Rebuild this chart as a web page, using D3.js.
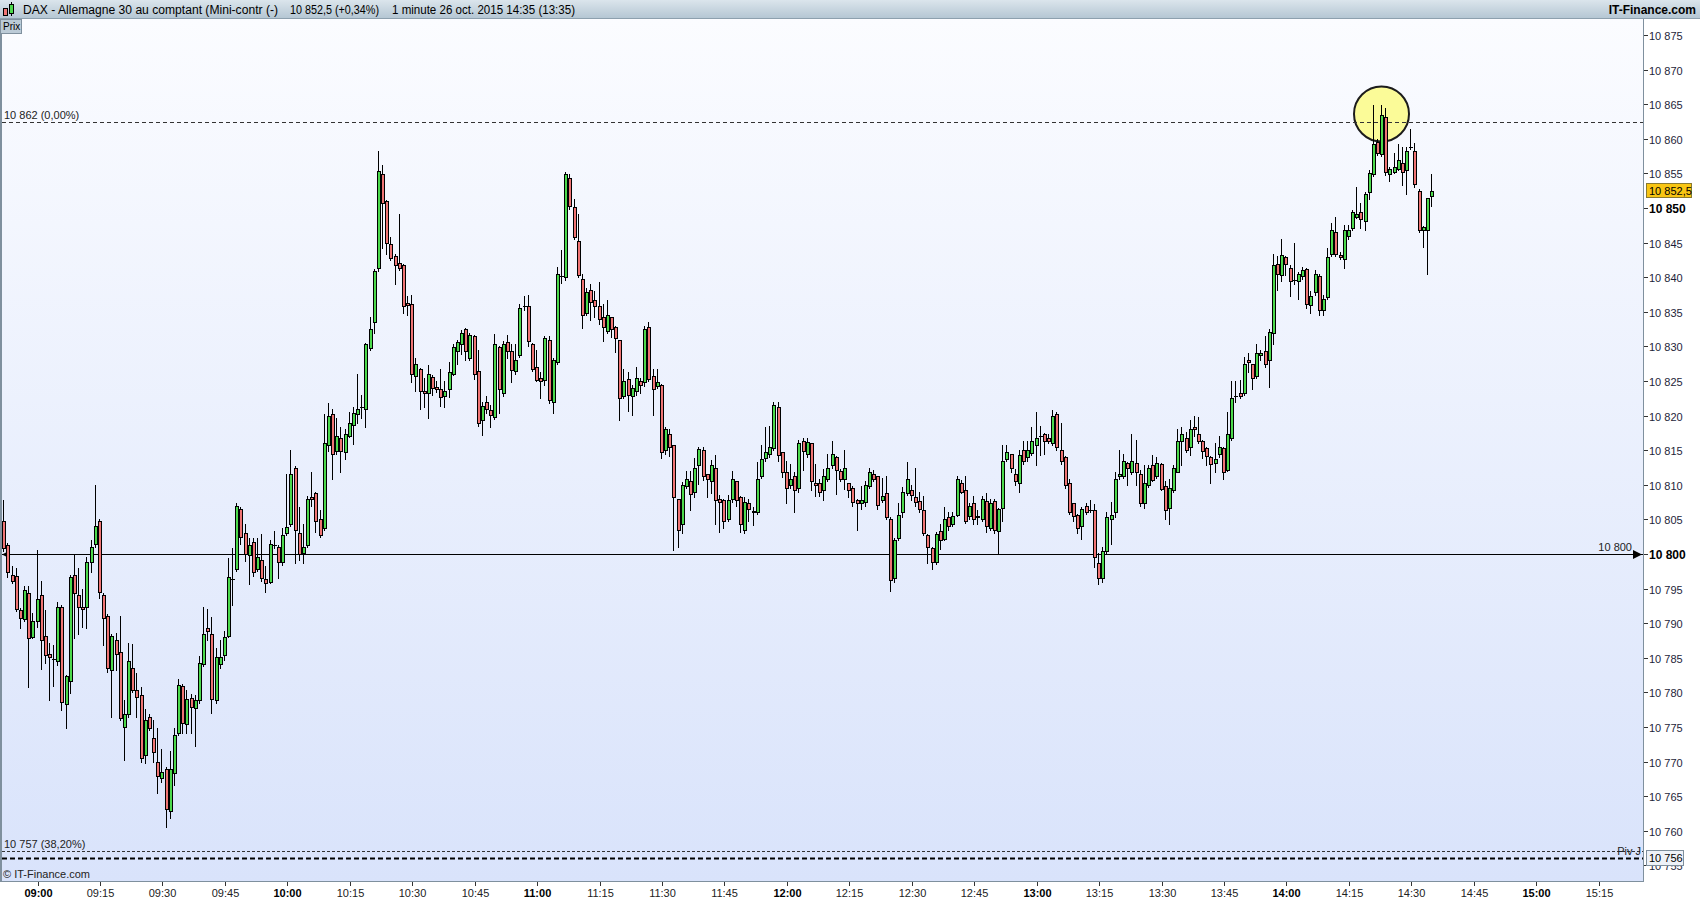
<!DOCTYPE html>
<html><head><meta charset="utf-8">
<script src="https://cdn.jsdelivr.net/npm/d3@7"></script>
<style>
body{margin:0;background:#fff;}
svg{display:block;font-family:"Liberation Sans",Arial,sans-serif;}
</style>
</head><body>
<svg id="chart" width="1700" height="900"></svg>
<script>
// ---------------- DATA ----------------
const lastTime = "14:35";
const opens = [
10804.8,10801.3,10796.9,10796.8,10791.9,10790.6,10794.3,10788.0,10790.3,10794.0,
10788.2,10785.5,10784.8,10784.5,10792.3,10778.3,10781.7,10796.9,10794.0,10792.4,
10792.4,10798.8,10801.5,10804.7,10794.0,10791.0,10783.3,10787.5,10785.8,10775.0,
10776.9,10783.5,10780.4,10779.6,10771.0,10776.5,10773.4,10769.9,10767.6,10768.9,
10762.9,10768.3,10774.1,10780.9,10775.4,10779.2,10777.8,10778.9,10784.1,10789.3,
10788.5,10778.9,10784.1,10785.4,10788.2,10796.4,10797.9,10806.5,10803.0,10799.9,
10801.8,10797.9,10799.2,10796.4,10796.0,10801.25,10801.0,10798.9,10803.0,10804.3,
10812.5,10803.0,10800.2,10801.25,10808.3,10808.8,10805.0,10803.7,10815.8,10820.2,
10814.9,10816.7,10814.7,10817.1,10818.7,10820.2,10821.2,10820.9,10829.8,10833.5,
10841.3,10854.9,10851.0,10844.75,10843.1,10842.1,10841.7,10836.3,10836.2,10825.7,
10826.7,10823.5,10823.2,10825.6,10824.2,10823.8,10822.9,10823.9,10826.0,10829.4,
10830.3,10832.5,10828.4,10831.5,10826.4,10819.3,10821.9,10820.8,10819.8,10829.9,
10823.2,10830.7,10829.3,10826.4,10828.7,10835.9,10835.8,10830.4,10827.0,10825.5,
10825.2,10830.9,10821.9,10827.7,10840.2,10840.0,10854.4,10850.2,10845.2,10839.7,
10834.9,10838.2,10836.7,10835.9,10834.2,10832.2,10834.2,10832.8,10830.9,10822.8,
10825.3,10822.8,10823.6,10825.0,10824.8,10832.8,10825.7,10824.3,10824.4,10815.0,
10817.4,10815.7,10807.9,10804.3,10809.8,10810.5,10808.9,10812.8,10815.0,10811.5,
10810.5,10812.5,10807.9,10807.8,10805.0,10807.9,10810.5,10808.3,10803.5,10807.3,
10806.2,10806.0,10811.3,10813.9,10814.4,10815.3,10821.2,10814.7,10811.9,10809.9,
10811.2,10809.5,10816.3,10814.4,10816.0,10810.2,10810.2,10809.2,10810.9,10812.8,
10814.0,10812.0,10810.8,10810.2,10809.5,10807.8,10807.3,10807.5,10809.8,10811.5,
10811.2,10807.8,10808.8,10805.0,10796.5,10802.3,10806.0,10808.8,10809.2,10808.3,
10807.7,10806.3,10802.8,10800.8,10798.8,10803.3,10802.2,10805.3,10804.3,10805.7,
10810.2,10809.2,10805.5,10807.3,10805.4,10805.0,10807.7,10803.8,10807.7,10803.3,
10806.7,10813.8,10814.4,10811.5,10810.2,10815.0,10814.0,10814.6,10815.7,10817.0,
10817.3,10816.7,10816.0,10820.2,10815.0,10814.0,10810.2,10807.3,10805.7,10804.0,
10807.0,10806.4,10806.3,10798.7,10796.5,10800.5,10805.0,10806.0,10811.2,10811.2,
10813.2,10811.8,10813.2,10811.5,10807.3,10809.9,10812.8,10811.2,10813.0,10809.8,
10806.7,10809.2,10811.9,10816.4,10816.7,10815.4,10818.3,10817.4,10816.3,10815.3,
10814.0,10813.2,10814.4,10815.3,10812.2,10816.7,10822.9,10823.2,10823.2,10828.0,
10827.4,10825.7,10828.8,10829.3,10828.0,10831.9,10841.9,10840.3,10842.9,10841.4,
10839.6,10839.5,10840.2,10841.2,10836.0,10837.9,10840.2,10835.3,10837.2,10843.4,
10846.5,10843.2,10842.7,10845.9,10847.1,10848.7,10849.4,10848.2,10852.3,10854.9,
10859.6,10857.8,10863.2,10854.9,10855.2,10855.7,10856.5,10855.5,10858.9,10858.3,
10852.4,10846.8,10846.9,10851.7];
const highs = [
10807.8,10801.6,10798.3,10798.0,10792.2,10795.3,10795.3,10791.4,10800.6,10796.1,
10791.9,10787.1,10786.8,10793.1,10792.6,10782.5,10797.0,10800.0,10798.0,10795.0,
10799.5,10802.0,10810.0,10805.0,10794.3,10791.3,10788.5,10788.6,10791.0,10778.9,
10787.1,10787.0,10782.8,10780.8,10777.6,10776.8,10776.0,10774.8,10771.8,10769.2,
10771.5,10774.8,10782.0,10781.2,10780.4,10779.8,10779.6,10785.2,10792.4,10792.0,
10790.9,10786.4,10787.6,10788.8,10799.4,10800.8,10807.3,10806.8,10804.4,10802.3,
10802.3,10802.3,10802.9,10798.2,10802.0,10803.3,10801.3,10803.7,10811.5,10815.0,
10812.7,10806.8,10804.3,10808.4,10811.9,10809.0,10806.4,10820.2,10821.8,10820.9,
10819.6,10818.4,10818.1,10820.5,10821.3,10826.0,10823.0,10830.5,10834.2,10841.2,
10858.2,10856.2,10851.2,10845.8,10843.3,10849.2,10841.9,10837.3,10837.4,10828.4,
10826.9,10825.4,10827.3,10825.8,10825.0,10826.7,10825.0,10827.7,10830.3,10831.0,
10832.4,10832.6,10832.0,10831.6,10829.5,10821.9,10822.9,10821.5,10831.8,10830.1,
10830.8,10831.6,10830.3,10830.3,10836.1,10837.3,10837.5,10830.5,10829.5,10826.3,
10831.5,10831.5,10828.3,10841.5,10843.9,10855.2,10854.9,10851.3,10849.2,10840.4,
10838.4,10839.0,10838.0,10839.3,10836.2,10836.7,10834.3,10833.0,10831.0,10826.7,
10826.3,10824.4,10827.0,10825.4,10832.9,10833.5,10826.7,10826.7,10824.5,10818.3,
10818.0,10815.8,10808.0,10810.4,10812.0,10812.0,10813.9,10815.5,10815.4,10811.6,
10813.6,10814.3,10808.5,10807.9,10808.5,10812.0,10810.6,10808.4,10808.3,10807.9,
10806.8,10813.3,10815.8,10818.4,10818.5,10821.9,10821.9,10814.8,10813.4,10813.0,
10811.9,10816.5,10816.7,10816.7,10816.1,10813.0,10810.9,10812.3,10814.5,10816.3,
10814.1,10812.3,10815.0,10810.3,10809.8,10807.9,10809.8,10810.5,10812.5,10812.1,
10811.3,10811.0,10811.3,10805.4,10802.3,10807.4,10809.7,10813.3,10810.0,10812.5,
10808.9,10808.4,10802.9,10801.0,10803.2,10804.4,10806.8,10806.0,10806.1,10811.3,
10810.7,10811.3,10807.3,10808.4,10806.3,10808.4,10808.8,10808.0,10808.0,10806.6,
10815.8,10815.8,10814.5,10812.3,10815.0,10816.3,10816.3,10818.4,10820.5,10818.5,
10817.5,10817.4,10820.8,10820.5,10819.0,10814.1,10810.8,10807.4,10805.8,10806.8,
10807.3,10807.8,10807.2,10800.2,10801.0,10806.0,10807.5,10811.9,10815.0,10814.4,
10813.3,10817.4,10816.5,10812.2,10812.8,10812.8,10814.3,10814.0,10813.1,10810.5,
10810.9,10812.8,10818.0,10818.3,10817.6,10819.4,10819.9,10819.8,10816.5,10815.5,
10814.2,10816.0,10817.1,10815.4,10820.5,10825.0,10825.0,10825.2,10828.5,10829.0,
10827.5,10830.4,10829.5,10831.5,10832.5,10843.4,10843.0,10845.5,10843.0,10841.8,
10844.9,10840.8,10841.5,10841.4,10838.0,10841.0,10840.4,10837.5,10844.2,10847.9,
10848.7,10843.7,10847.5,10847.5,10849.7,10853.1,10850.7,10852.3,10855.5,10864.9,
10860.0,10864.9,10864.4,10856.0,10857.9,10859.3,10858.9,10858.9,10861.4,10859.4,
10852.8,10847.4,10851.5,10854.9];
const lows = [
10800.5,10796.7,10795.8,10791.8,10789.3,10790.3,10780.8,10787.8,10789.5,10783.4,
10784.3,10778.9,10780.9,10784.0,10777.5,10774.9,10779.9,10787.8,10788.5,10789.5,
10789.3,10797.4,10801.0,10793.7,10786.8,10783.0,10776.5,10783.2,10776.0,10770.2,
10776.5,10780.0,10776.5,10770.0,10769.8,10774.5,10770.0,10765.5,10767.0,10760.5,
10761.8,10766.6,10773.8,10774.1,10774.1,10774.1,10772.3,10778.5,10783.8,10787.5,
10777.0,10778.5,10783.5,10784.7,10788.0,10792.6,10797.5,10801.5,10799.0,10795.7,
10796.8,10797.5,10796.1,10794.5,10795.8,10800.8,10796.5,10798.4,10802.7,10804.0,
10798.7,10799.2,10798.7,10801.0,10806.9,10803.2,10802.5,10803.5,10814.9,10810.9,
10814.5,10811.8,10813.7,10816.9,10815.9,10818.9,10819.6,10818.4,10829.5,10831.9,
10840.9,10844.2,10843.4,10842.5,10839.0,10841.0,10834.8,10834.5,10824.9,10823.5,
10820.9,10821.2,10819.6,10823.0,10823.4,10821.4,10821.2,10822.7,10825.8,10827.5,
10828.9,10828.0,10828.0,10825.3,10818.5,10817.2,10820.4,10818.3,10819.5,10820.4,
10822.9,10828.3,10824.9,10826.0,10828.5,10835.2,10830.0,10826.5,10825.0,10822.5,
10824.4,10821.8,10820.4,10827.5,10839.2,10839.6,10849.9,10845.5,10840.0,10832.7,
10834.5,10833.8,10834.2,10833.3,10830.8,10832.0,10831.4,10829.2,10819.3,10822.5,
10820.7,10820.1,10823.0,10823.2,10824.3,10825.0,10820.1,10824.0,10813.9,10814.4,
10814.2,10800.6,10801.0,10803.0,10809.5,10806.4,10808.3,10810.1,10810.7,10808.3,
10808.8,10804.4,10803.2,10803.7,10804.8,10807.5,10806.9,10803.2,10803.0,10804.8,
10804.2,10805.8,10811.0,10813.4,10814.0,10815.0,10813.4,10811.1,10807.3,10809.5,
10806.0,10809.0,10812.2,10814.0,10809.3,10808.4,10808.4,10807.8,10810.5,10812.5,
10808.7,10810.5,10809.4,10808.3,10807.0,10803.4,10806.5,10807.0,10809.6,10810.5,
10806.5,10807.5,10805.0,10794.7,10796.0,10802.0,10805.4,10808.5,10807.8,10807.0,
10806.0,10802.8,10798.7,10797.9,10798.6,10800.7,10802.0,10803.5,10804.0,10805.5,
10808.8,10804.5,10805.0,10804.4,10804.3,10804.8,10803.2,10803.5,10803.0,10800.0,
10804.7,10813.5,10811.8,10809.9,10808.9,10813.0,10813.5,10814.3,10812.9,10814.3,
10814.4,10816.0,10815.8,10815.0,10813.0,10809.5,10805.8,10804.7,10803.0,10802.2,
10805.8,10806.0,10798.1,10795.7,10796.0,10800.0,10801.5,10805.4,10810.9,10811.0,
10809.9,10811.6,10809.9,10807.0,10806.7,10809.7,10810.5,10811.0,10809.2,10805.0,
10804.3,10809.0,10811.8,10812.9,10814.8,10814.3,10817.0,10816.0,10813.9,10812.9,
10810.2,10811.9,10814.0,10810.9,10812.0,10816.5,10821.9,10822.5,10823.0,10826.3,
10823.9,10825.5,10828.0,10827.0,10824.2,10830.4,10838.2,10839.4,10840.3,10837.3,
10839.0,10836.9,10839.8,10835.5,10834.8,10837.5,10834.5,10834.6,10836.8,10843.0,
10843.0,10842.6,10841.3,10845.5,10846.8,10848.5,10847.1,10846.8,10851.3,10854.7,
10857.6,10857.5,10854.8,10853.9,10855.0,10855.5,10853.3,10852.0,10858.5,10853.0,
10846.5,10844.4,10840.4,10850.3];
const closes = [
10800.8,10797.4,10796.1,10792.0,10790.8,10794.8,10787.8,10790.3,10793.5,10787.5,
10785.4,10785.1,10784.8,10792.4,10778.6,10782.3,10796.7,10794.3,10792.4,10792.0,
10798.9,10801.0,10804.0,10794.5,10790.8,10783.5,10788.2,10785.5,10776.3,10776.8,
10784.5,10780.3,10779.3,10770.5,10776.0,10774.8,10771.4,10767.9,10768.5,10763.1,
10768.9,10773.8,10781.0,10775.5,10779.0,10777.9,10778.9,10784.3,10788.5,10788.8,
10779.0,10785.1,10785.1,10788.0,10796.7,10796.4,10807.0,10802.4,10800.0,10801.3,
10797.4,10799.5,10796.5,10795.8,10801.5,10801.25,10798.8,10802.8,10803.9,10811.5,
10803.5,10800.0,10801.0,10807.9,10807.9,10804.7,10802.8,10816.0,10819.9,10814.5,
10817.1,10814.9,10817.4,10818.9,10820.4,10820.9,10821.2,10830.3,10832.5,10840.9,
10855.4,10850.7,10844.9,10842.8,10841.8,10841.4,10835.8,10836.0,10826.0,10827.4,
10823.5,10823.3,10826.0,10824.0,10823.9,10822.7,10823.5,10826.3,10829.9,10830.7,
10831.9,10829.3,10831.7,10826.0,10818.9,10821.4,10820.9,10820.1,10830.3,10823.9,
10830.4,10829.4,10826.6,10828.0,10835.5,10835.9,10830.8,10826.7,10825.2,10825.0,
10831.2,10822.3,10828.0,10840.4,10840.2,10854.9,10850.3,10845.8,10840.3,10834.5,
10837.9,10836.4,10835.8,10834.0,10832.8,10834.5,10832.5,10831.2,10822.5,10825.0,
10823.0,10824.0,10825.4,10824.4,10832.5,10825.3,10823.9,10824.8,10814.7,10818.0,
10815.4,10808.3,10803.4,10809.9,10810.8,10808.7,10812.5,10815.2,10811.2,10810.8,
10812.8,10807.8,10807.5,10804.7,10807.8,10810.8,10807.8,10804.3,10807.5,10806.5,
10806.1,10810.9,10813.8,10814.7,10815.4,10821.5,10814.3,10811.8,10809.5,10810.9,
10809.2,10816.0,10814.9,10816.2,10810.5,10810.0,10809.0,10811.3,10812.5,10814.4,
10812.2,10810.9,10812.5,10809.2,10807.5,10807.4,10807.8,10810.0,10811.8,10810.9,
10807.1,10808.4,10805.4,10796.3,10802.0,10805.7,10808.9,10810.9,10808.5,10807.5,
10806.5,10803.0,10801.0,10798.9,10802.9,10802.0,10805.0,10804.0,10805.5,10810.9,
10809.0,10804.7,10807.0,10805.0,10805.5,10807.9,10804.0,10807.4,10803.4,10806.5,
10813.4,10814.7,10812.5,10810.5,10814.3,10813.4,10815.0,10816.4,10816.7,10817.0,
10816.4,10816.3,10819.9,10815.4,10813.4,10809.9,10806.0,10805.5,10803.7,10806.5,
10806.0,10806.4,10799.5,10796.5,10800.5,10805.3,10805.7,10810.9,10811.5,10813.4,
10812.5,10813.4,10811.8,10807.4,10810.2,10812.5,10810.7,10813.2,10809.4,10806.3,
10809.5,10812.5,10816.3,10817.3,10815.0,10818.0,10818.0,10816.4,10814.9,10814.2,
10813.0,10813.8,10815.4,10811.9,10817.3,10822.5,10822.9,10822.9,10827.4,10827.7,
10825.4,10829.0,10829.0,10827.4,10832.1,10841.8,10840.4,10843.2,10841.9,10839.5,
10839.6,10840.4,10841.0,10836.2,10837.3,10840.4,10835.3,10836.9,10842.9,10846.9,
10843.4,10842.9,10846.8,10846.9,10849.4,10849.2,10848.4,10852.0,10855.1,10859.3,
10857.9,10863.4,10855.2,10855.7,10855.9,10856.9,10855.2,10858.2,10858.9,10853.5,
10846.9,10847.2,10851.4,10852.5];

const timeLabels = ["09:00","09:15","09:30","09:45","10:00","10:15","10:30","10:45","11:00","11:15",
  "11:30","11:45","12:00","12:15","12:30","12:45","13:00","13:15","13:30","13:45","14:00","14:15",
  "14:30","14:45","15:00","15:15"];
const priceTicks = [10755,10760,10765,10770,10775,10780,10785,10790,10795,10800,10805,10810,10815,
  10820,10825,10830,10835,10840,10845,10850,10855,10860,10865,10870,10875];
const boldPrices = [10800,10850];
const fibLevels = [10862.4, 10757];
const fibLabels = ["10 862 (0,00%)", "10 757 (38,20%)"];
const pivotLevel = 10756;
const pivotLabel = "Piv J";
const refLevel = 10800;
const lastPrice = 10852.5;
const titleParts = ["DAX - Allemagne 30 au comptant (Mini-contr (-)", "10 852,5 (+0,34%)", "1 minute  26 oct. 2015 14:35 (13:35)"];

// ---------------- LAYOUT ----------------
const svg = d3.select("#chart");
const P = {l:2, r:1643, t:19, b:881};
const toMin = s => { const [h,m] = s.split(":").map(Number); return h*60+m; };
const n = closes.length;
const startMin = toMin(lastTime) - (n-1);
const candles = closes.map((c,i)=>({t:startMin+i, o:opens[i], h:highs[i], l:lows[i], c}));

const x = d3.scaleLinear().domain([540, 900]).range([37.5, 1536.2]);
const y = d3.scaleLinear().domain([10752.73, 10877.33]).range([P.b, P.t]);
const fmtP = v => { const s = Math.round(v).toString(); return s.slice(0,2)+" "+s.slice(2); };

const defs = svg.append("defs");
const bg = defs.append("linearGradient").attr("id","bg").attr("x1",0).attr("x2",0).attr("y1",0).attr("y2",1);
bg.append("stop").attr("offset","0%").attr("stop-color","#fbfcff");
bg.append("stop").attr("offset","100%").attr("stop-color","#d9e3fb");
const tb = defs.append("linearGradient").attr("id","tb").attr("x1",0).attr("x2",0).attr("y1",0).attr("y2",1);
tb.append("stop").attr("offset","0%").attr("stop-color","#dbe5ec");
tb.append("stop").attr("offset","100%").attr("stop-color","#b3c5d2");
defs.append("clipPath").attr("id","clip").append("rect")
  .attr("x",P.l).attr("y",P.t).attr("width",P.r-P.l).attr("height",P.b-P.t);

// background
svg.append("rect").attr("width",1700).attr("height",900).attr("fill","#fff");
svg.append("rect").attr("x",P.l).attr("y",P.t).attr("width",P.r-P.l).attr("height",P.b-P.t).attr("fill","url(#bg)");

const plot = svg.append("g").attr("clip-path","url(#clip)");

// highlight circle
const hiIdx = d3.maxIndex(candles, d=>d.h);
plot.append("circle").attr("cx",1381.5).attr("cy",114).attr("r",27.5)
  .attr("fill","#fbfb98").attr("stroke","#1c1c1c").attr("stroke-width",2);

// reference lines
plot.append("line").attr("x1",P.l).attr("x2",P.r).attr("y1",Math.round(y(fibLevels[0]))+0.5).attr("y2",Math.round(y(fibLevels[0]))+0.5)
  .attr("stroke","#333").attr("stroke-dasharray","4,3");
plot.append("line").attr("x1",P.l).attr("x2",P.r).attr("y1",Math.round(y(fibLevels[1]))+0.5).attr("y2",Math.round(y(fibLevels[1]))+0.5)
  .attr("stroke","#333").attr("stroke-dasharray","3,2");
plot.append("line").attr("x1",P.l).attr("x2",P.r).attr("y1",Math.round(y(pivotLevel))+0.5).attr("y2",Math.round(y(pivotLevel))+0.5)
  .attr("stroke","#000").attr("stroke-width",2).attr("stroke-dasharray","5,3");
const yRef = Math.round(y(refLevel))+0.5;
plot.append("line").attr("x1",P.l).attr("x2",P.r).attr("y1",yRef).attr("y2",yRef).attr("stroke","#000");
plot.append("path").attr("d",`M2,${yRef} L10,${yRef-4} L10,${yRef+4} Z`).attr("fill","#000");
plot.append("path").attr("d",`M${P.r-1},${yRef} L${P.r-10},${yRef-4.5} L${P.r-10},${yRef+4.5} Z`).attr("fill","#000");

// labels in plot
const lab = svg.append("g").attr("font-size",11).attr("fill","#222");
lab.append("text").attr("x",4).attr("y",Math.round(y(fibLevels[0]))-3).text(fibLabels[0]);
lab.append("text").attr("x",4).attr("y",Math.round(y(fibLevels[1]))-3).text(fibLabels[1]);
lab.append("text").attr("x",1632).attr("y",yRef-4).attr("text-anchor","end").text(fmtP(refLevel));
lab.append("text").attr("x",1641).attr("y",Math.round(y(pivotLevel))-3).attr("text-anchor","end").text(pivotLabel);
lab.append("text").attr("x",3).attr("y",878).text("\u00A9 IT-Finance.com");

// candles
const cg = plot.append("g");
candles.forEach(d=>{
  const cx = Math.round(x(d.t));
  const yh = Math.round(y(d.h)), yl = Math.round(y(d.l));
  cg.append("line").attr("x1",cx-0.5).attr("x2",cx-0.5).attr("y1",yh).attr("y2",yl+1)
    .attr("stroke","#000").attr("stroke-width",1);
  const yt = Math.round(y(Math.max(d.o,d.c))), yb = Math.round(y(Math.min(d.o,d.c)));
  if (yb - yt < 1) {
    cg.append("line").attr("x1",cx-2).attr("x2",cx+2).attr("y1",yt+0.5).attr("y2",yt+0.5).attr("stroke","#000");
  } else {
    cg.append("rect").attr("x",cx-1.5).attr("y",yt+0.5).attr("width",3).attr("height",yb-yt)
      .attr("fill", d.c>=d.o ? "#4cd94c" : "#ef7474").attr("stroke","#000").attr("stroke-width",1);
  }
});

// borders
svg.append("line").attr("x1",1).attr("x2",1).attr("y1",P.t).attr("y2",P.b).attr("stroke","#7f909e").attr("stroke-width",2);
svg.append("line").attr("x1",P.r+0.5).attr("x2",P.r+0.5).attr("y1",P.t).attr("y2",P.b+1).attr("stroke","#7f909e");
svg.append("line").attr("x1",0).attr("x2",P.r+1).attr("y1",P.b+0.5).attr("y2",P.b+0.5).attr("stroke","#7f909e");

// right axis
const ya = svg.append("g").attr("font-size",11);
priceTicks.forEach(v=>{
  const yy = Math.round(y(v))+0.5;
  ya.append("line").attr("x1",P.r+1).attr("x2",P.r+5).attr("y1",yy).attr("y2",yy).attr("stroke","#333");
  const b = boldPrices.includes(v);
  ya.append("text").attr("x",1649).attr("y",yy+4).attr("fill",b?"#000":"#1e1e3a")
    .attr("font-weight",b?"bold":"normal").attr("font-size",b?12:11).text(fmtP(v));
});
// last price box
const yl = y(lastPrice);
ya.append("rect").attr("x",1646.5).attr("y",Math.round(yl)-7.5).attr("width",45).attr("height",14)
  .attr("fill","#f8c513").attr("stroke","#8a7a30");
ya.append("text").attr("x",1649).attr("y",Math.round(yl)+4).attr("fill","#000").text("10 852,5");
// pivot box
const yp = y(pivotLevel);
ya.append("rect").attr("x",1646.5).attr("y",Math.round(yp)-7.5).attr("width",37).attr("height",15)
  .attr("fill","#eef2f8").attr("stroke","#7f8f9c");
ya.append("text").attr("x",1649).attr("y",Math.round(yp)+4).attr("fill","#000").text(fmtP(pivotLevel));

// bottom axis
const xa = svg.append("g").attr("font-size",11).attr("text-anchor","middle");
timeLabels.forEach(s=>{
  const xx = Math.round(x(toMin(s)))+0.5;
  const hour = s.endsWith(":00");
  xa.append("line").attr("x1",xx).attr("x2",xx).attr("y1",P.b+1).attr("y2",P.b+5).attr("stroke","#333");
  xa.append("text").attr("x",xx).attr("y",897).attr("font-weight",hour?"bold":"normal")
    .attr("fill",hour?"#000":"#222").text(s);
});

// title bar
svg.append("rect").attr("x",0).attr("y",0).attr("width",1700).attr("height",19).attr("fill","url(#tb)");
svg.append("line").attr("x1",0).attr("x2",1700).attr("y1",18.5).attr("y2",18.5).attr("stroke","#8da0ae");
// icon
svg.append("rect").attr("x",3.5).attr("y",8.5).attr("width",4).attr("height",7).attr("fill","#ef7474").attr("stroke","#000");
svg.append("rect").attr("x",9.5).attr("y",4.5).attr("width",4).attr("height",9).attr("fill","#4cd94c").attr("stroke","#000");
svg.append("line").attr("x1",11.5).attr("x2",11.5).attr("y1",2).attr("y2",4.5).attr("stroke","#000");
svg.append("line").attr("x1",11.5).attr("x2",11.5).attr("y1",13.5).attr("y2",16).attr("stroke","#000");
const tt = svg.append("g").attr("font-size",12).attr("fill","#000").style("white-space","pre");
tt.append("text").attr("x",23).attr("y",14).attr("textLength",255).attr("lengthAdjust","spacingAndGlyphs").text(titleParts[0]);
tt.append("text").attr("x",290).attr("y",14).attr("textLength",89).attr("lengthAdjust","spacingAndGlyphs").text(titleParts[1]);
tt.append("text").attr("x",392).attr("y",14).attr("textLength",183).attr("lengthAdjust","spacingAndGlyphs").text(titleParts[2]);
tt.append("text").attr("x",1696).attr("y",14).attr("text-anchor","end").attr("font-weight","bold").text("IT-Finance.com");

// Prix box
svg.append("rect").attr("x",0.5).attr("y",19.5).attr("width",21).attr("height",14).attr("fill","#bccbd7").attr("stroke","#7f909e");
svg.append("text").attr("x",3).attr("y",30).attr("font-size",10).attr("fill","#000").text("Prix");
</script>
</body></html>
